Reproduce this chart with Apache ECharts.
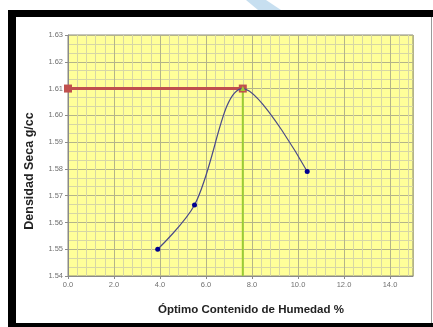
<!DOCTYPE html>
<html>
<head>
<meta charset="utf-8">
<script src="https://cdn.jsdelivr.net/npm/echarts@6/dist/echarts.min.js"></script>
<style>
  html, body { margin: 0; padding: 0; background: #ffffff; }
  #chart { width: 433px; height: 327px; }
</style>
</head>
<body>
<div id="chart"></div>
<script>
// Proctor compaction test: moisture content vs dry density
const humedad = [3.9, 5.5, 7.6, 10.4];          // %
const densidad = [1.550, 1.5665, 1.610, 1.579];  // g/cc
const humedadOptima = 7.6;
const densidadMaxima = 1.610;

const xMin = 0, xMax = 15, xStep = 2;
const yMin = 1.54, yMax = 1.63, yStep = 0.01;

const tituloX = 'Óptimo Contenido de Humedad %';
const tituloY = 'Densidad Seca g/cc';

const chart = echarts.init(document.getElementById('chart'), null, { renderer: 'canvas' });

const curvePoints = humedad.map((x, i) => [x, densidad[i]]);
const peakIndex = humedad.indexOf(humedadOptima);

const grid = { left: 68, right: 20, top: 35, bottom: 51 };

chart.setOption({
  backgroundColor: '#ffffff',
  animation: false,
  grid: Object.assign({ show: true, backgroundColor: '#ffff99', borderColor: '#8a8a7a', borderWidth: 1 }, grid),
  xAxis: {
    type: 'value', min: xMin, max: xMax, interval: xStep,
    axisLine: { show: true, lineStyle: { color: '#8a8a8a', width: 1 } },
    axisTick: { show: true, length: 3, lineStyle: { color: '#8a8a8a' } },
    axisLabel: {
      showMaxLabel: false, margin: 5,
      fontFamily: 'Liberation Sans', fontSize: 7.5, color: '#707070',
      formatter: v => v.toFixed(1)
    },
    splitLine: { show: true, lineStyle: { color: '#b4b48a', width: 1 } },
    minorTick: { show: false, splitNumber: 5 },
    minorSplitLine: { show: true, lineStyle: { color: '#d6d6a6', width: 1 } }
  },
  yAxis: {
    type: 'value', min: yMin, max: yMax, interval: yStep,
    axisLine: { show: true, lineStyle: { color: '#8a8a8a', width: 1 } },
    axisTick: { show: true, length: 3, lineStyle: { color: '#8a8a8a' } },
    axisLabel: {
      margin: 5,
      fontFamily: 'Liberation Sans', fontSize: 7.5, color: '#707070',
      formatter: v => v.toFixed(2)
    },
    splitLine: { show: true, lineStyle: { color: '#b4b48a', width: 1 } },
    minorTick: { show: false, splitNumber: 3 },
    minorSplitLine: { show: true, lineStyle: { color: '#d6d6a6', width: 1 } }
  },
  series: [
    {
      // guide down to the optimum moisture content
      type: 'line',
      data: [[humedadOptima, yMin], [humedadOptima, densidadMaxima]],
      lineStyle: { color: '#9acd32', width: 2 },
      symbol: 'none',
      z: 3
    },
    {
      // guide across to the maximum dry density
      type: 'line',
      data: [[xMin, densidadMaxima], [humedadOptima, densidadMaxima]],
      lineStyle: { color: '#c0504d', width: 3 },
      symbol: 'rect', symbolSize: 8,
      itemStyle: { color: '#c0504d' },
      z: 4
    },
    {
      // compaction curve
      type: 'line',
      data: curvePoints.map((p, i) => i === peakIndex
        ? { value: p, symbol: 'triangle', symbolSize: 5, itemStyle: { color: '#9acd32' } }
        : p),
      smooth: 0.35,
      lineStyle: { color: '#4a4a88', width: 1.2 },
      symbol: 'circle', symbolSize: 5,
      itemStyle: { color: '#000090' },
      z: 5
    }
  ],
  graphic: [
    // decorative frame
    { type: 'rect', shape: { x: 8, y: 10, width: 425, height: 7 }, style: { fill: '#000000' }, z: 100 },
    { type: 'rect', shape: { x: 8, y: 10, width: 8, height: 317 }, style: { fill: '#000000' }, z: 100 },
    { type: 'rect', shape: { x: 8, y: 323, width: 425, height: 4 }, style: { fill: '#000000' }, z: 100 },
    { type: 'rect', shape: { x: 431, y: 17, width: 1, height: 306 }, style: { fill: '#9a9a9a' }, z: 100 },
    { type: 'polygon', shape: { points: [[246, 0], [266, 0], [281, 10], [258, 10]] }, style: { fill: '#c7dff0' }, z: 100 },
    // axis titles
    {
      type: 'text', x: 30, y: 171, rotation: Math.PI / 2,
      style: {
        text: tituloY, fontFamily: 'Liberation Sans', fontWeight: 'bold', fontSize: 12.5,
        fill: '#222222', align: 'center', verticalAlign: 'middle'
      },
      z: 100
    },
    {
      type: 'text', x: 251, y: 310,
      style: {
        text: tituloX, fontFamily: 'Liberation Sans', fontWeight: 'bold', fontSize: 11.5,
        fill: '#222222', align: 'center', verticalAlign: 'middle'
      },
      z: 100
    }
  ]
});
</script>
</body>
</html>
